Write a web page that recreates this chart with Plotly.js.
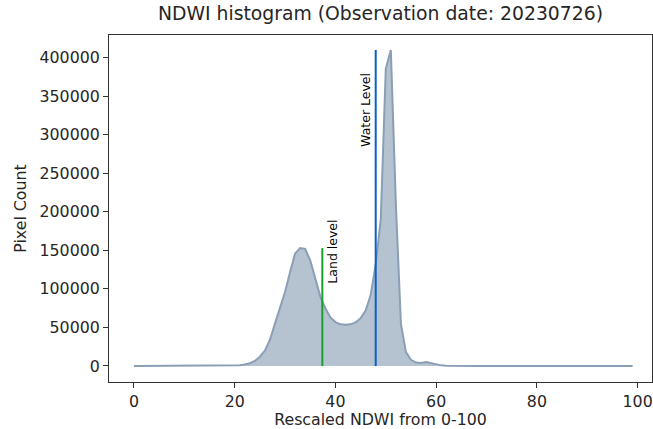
<!DOCTYPE html>
<html>
<head>
<meta charset="utf-8">
<script src="https://cdn.plot.ly/plotly-3.0.1.min.js"></script>
<style>html,body{margin:0;padding:0;background:#fff;}#chart{width:653px;height:429px;}</style>
</head>
<body>
<div id="chart"></div>
<script>
// Histogram bins (rescaled NDWI 0-99)
const bins = Array.from({length: 100}, (_, i) => i);
// Pixel counts per bin
const counts = [
  0,0,0,0,0,0,0,0,0,0,
  0,0,0,0,0,0,0,0,0,0,
  300,800,1800,3500,6500,12000,20000,34000,55000,75000,
  96000,122000,146000,153000,152000,137000,113000,90000,75000,63000,
  57000,54000,53500,54000,56500,62000,72000,92000,132000,190000,
  386000,410000,210000,55000,18000,8000,4500,4000,5000,3500,
  1500,800,400,200,0,0,0,0,0,0,
  0,0,0,0,0,0,0,0,0,0,
  0,0,0,0,0,0,0,0,0,0,
  0,0,0,0,0,0,0,0,0,0
];
// Threshold levels
const levelNames = ["Land level", "Water Level"];
const levelX = [37.4, 48.0];
const levelTop = [153000, 410000];
const labelBase = [104000, 282000];
const xTicks = [0, 20, 40, 60, 80, 100];
const yTicks = [0, 50000, 100000, 150000, 200000, 250000, 300000, 350000, 400000];

const traces = [
  {
    x: bins, y: counts, type: 'scatter', mode: 'lines',
    fill: 'tozeroy', fillcolor: 'rgba(181,195,208,1)',
    line: {color: '#8a9fb5', width: 2},
    hoverinfo: 'skip'
  },
  {
    x: [levelX[0], levelX[0]], y: [0, levelTop[0]], type: 'scatter', mode: 'lines',
    line: {color: '#17a02b', width: 2}
  },
  {
    x: [levelX[1], levelX[1]], y: [0, levelTop[1]], type: 'scatter', mode: 'lines',
    line: {color: '#0a5fc8', width: 2}
  }
];

const font = 'DejaVu Sans, sans-serif';
const fs = 15.8;
const layout = {
  width: 653, height: 429,
  margin: {l: 108.5, r: 1, t: 35, b: 47.3},
  paper_bgcolor: '#fff', plot_bgcolor: '#fff',
  showlegend: false,
  font: {family: font, color: '#262626', size: fs},
  title: {text: 'NDWI histogram (Observation date: 20230726)', font: {family: font, size: 18.8, color: '#262626'}, x: 0.5, xref: 'paper', y: 1, yref: 'container', yanchor: 'top', pad: {t: 7}},
  xaxis: {
    range: [-4.95, 102.85], tickvals: xTicks, ticktext: xTicks.map(String),
    showgrid: false, zeroline: false, showline: true, linecolor: '#333', linewidth: 1, mirror: true,
    ticks: 'outside', ticklen: 5, tickcolor: '#333', tickfont: {size: fs},
    title: {text: 'Rescaled NDWI from 0-100', font: {size: fs}, standoff: 7}
  },
  yaxis: {
    range: [-20800, 429600], tickvals: yTicks, ticktext: yTicks.map(String),
    showgrid: false, zeroline: false, showline: true, linecolor: '#333', linewidth: 1, mirror: true,
    ticks: 'outside', ticklen: 5, tickcolor: '#333', tickfont: {size: fs},
    title: {text: 'Pixel Count', font: {size: fs}, standoff: 8}
  },
  annotations: [
    {x: levelX[0], y: labelBase[0], xref: 'x', yref: 'y', text: levelNames[0], textangle: -90,
     showarrow: false, xanchor: 'left', yanchor: 'bottom', xshift: 1, font: {size: 12.5, color: '#000'}},
    {x: levelX[1], y: labelBase[1], xref: 'x', yref: 'y', text: levelNames[1], textangle: -90,
     showarrow: false, xanchor: 'right', yanchor: 'bottom', xshift: -1, font: {size: 12.5, color: '#000'}}
  ]
};
Plotly.newPlot('chart', traces, layout, {staticPlot: true, displayModeBar: false});
</script>
</body>
</html>
